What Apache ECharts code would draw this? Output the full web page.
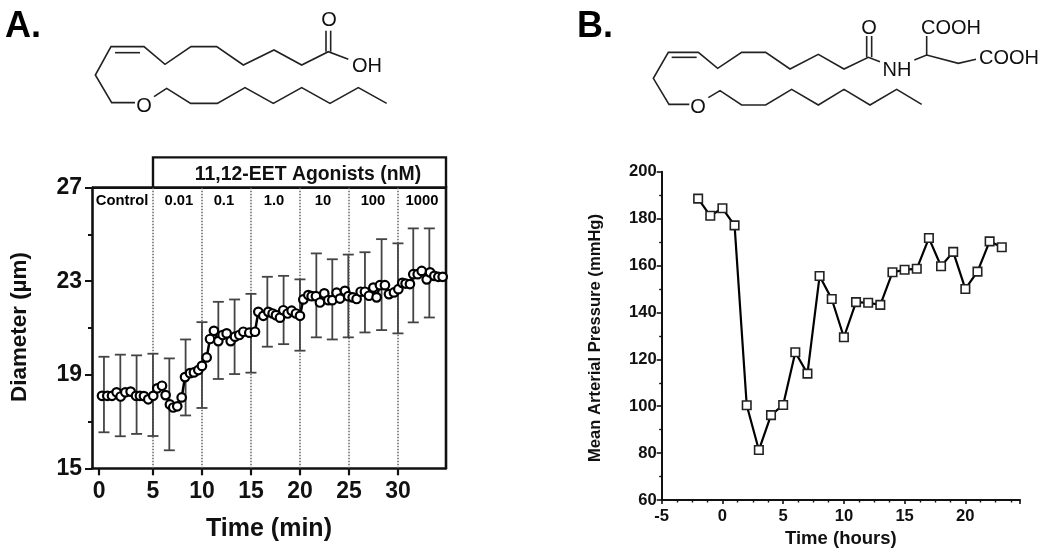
<!DOCTYPE html>
<html><head><meta charset="utf-8">
<style>html,body{margin:0;padding:0;background:#fff}#c{width:1050px;height:555px}</style>
<script src="https://cdn.jsdelivr.net/npm/echarts@6/dist/echarts.min.js"></script>
</head><body><div id="c"></div>
<script>
const timeA=[-0.20,0.34,0.82,1.29,1.70,2.18,2.72,3.27,3.67,4.08,4.52,5.03,5.44,5.92,6.29,6.73,7.07,7.48,7.93,8.27,8.78,9.18,9.63,10.0,10.48,10.82,11.22,11.67,12.11,12.52,12.93,13.37,13.81,14.22,14.83,15.41,15.75,16.26,16.77,17.21,17.55,17.96,18.30,18.74,19.15,19.59,20.0,20.34,20.85,21.19,21.63,22.04,22.48,22.89,23.30,23.74,24.08,24.59,24.93,25.38,25.78,26.19,26.63,27.04,27.49,27.82,28.16,28.67,29.08,29.59,30.04,30.44,30.78,31.22,31.56,32.01,32.42,32.93,33.27,33.71,34.12,34.56];
const diameterA=[18.1,18.1,18.1,18.25,18.07,18.25,18.28,18.1,18.1,18.09,17.95,18.1,18.42,18.53,18.13,17.73,17.6,17.65,18.03,18.9,19.07,19.1,19.2,19.38,19.74,20.53,20.88,20.44,20.7,20.77,20.44,20.63,20.7,20.84,20.8,20.84,21.69,21.52,21.69,21.62,21.55,21.44,21.76,21.62,21.74,21.62,21.52,22.22,22.41,22.36,22.36,22.09,22.48,22.19,22.19,22.51,22.26,22.59,22.36,22.31,22.24,22.55,22.55,22.38,22.73,22.31,22.83,22.83,22.45,22.52,22.66,22.93,22.9,22.88,23.3,23.3,23.44,23.08,23.38,23.23,23.19,23.19];
const errTime=[0,1.67,3.33,5,6.67,8.33,10,11.67,13.33,15,16.67,18.33,20,21.67,23.3,24.93,26.63,28.33,30,31.56,33.2];
const errHigh=[19.77,19.86,19.83,19.9,19.7,20.51,21.25,22.12,22.22,22.46,23.19,23.23,23.08,24.19,23.94,24.14,24.24,24.8,24.62,25.26,25.26];
const errLow=[16.54,16.37,16.47,16.38,15.77,17.26,17.58,18.82,19.03,19.09,20.2,20.31,20.03,20.6,20.51,20.6,20.81,20.91,20.77,21.24,21.45];
const doseLines=[5,10,15,20,25,30];
const doseNames=['Control','0.01','0.1','1.0','10','100','1000'];
const doseNameTime=[1.84,7.65,12.24,17.35,22.35,27.45,32.45];
const tickValuesA=[-0.5,5,10,15,20,25,30];
const tickLabelsA=['0','5','10','15','20','25','30'];
const hoursB=[-2,-1,0,1,2,3,4,5,6,7,8,9,10,11,12,13,14,15,16,17,18,19,20,21,22,23];
const pressureB=[188.5,181.2,184.4,177.1,100.4,81.3,96.2,100.5,123,113.9,155.5,145.7,129.4,144.4,144.1,143.2,157.1,158.2,158.6,171.7,159.7,165.8,150,157.4,170.3,167.8];

const FF='"Liberation Sans",Arial,sans-serif';
const INK='#111';
function poly(pts,ox,w,c){return {type:'polyline',silent:true,shape:{points:pts.map(p=>[ox+p[0]/3,p[1]/3])},style:{stroke:c||'#222',lineWidth:w||1.6,fill:null,lineJoin:'miter'}};}
function txt(t,x,y,size,weight,opt){return Object.assign({type:'text',silent:true,x:x,y:y,style:{text:t,font:(weight||'normal')+' '+size+'px '+FF,fill:INK,textAlign:'center',textVerticalAlign:'middle'}},opt||{});}

const graphic=[
 txt('A.',5,27,36,'bold',{style:{text:'A.',font:'bold 36px '+FF,fill:'#000',textAlign:'left',textVerticalAlign:'middle'}}),
 txt('B.',577,27,36,'bold',{style:{text:'B.',font:'bold 36px '+FF,fill:'#000',textAlign:'left',textVerticalAlign:'middle'}}),
 poly([[405,308],[335,308],[286,225],[333,140],[432,140],[495,193],[573,140],[650,140],[730,195],[822,150],[905,195],[985,155],[1045,178]],0),
 poly([[345,158],[420,158]],0),
 poly([[978,155],[978,92]],0),poly([[992,155],[992,92]],0),
 poly([[462,290],[500,265],[572,310],[652,310],[735,263],[820,310],[905,263],[990,310],[1075,263],[1160,310]],0),
 txt('O',144,106,20),txt('O',329,20,20),txt('OH',367,66,20),
 poly([[358,313],[297,313],[250,235],[295,157],[385,157],[443,205],[515,157],[587,157],[660,207],[745,163],[822,207],[895,172],[930,185]],570),
 poly([[305,172],[380,172]],570),
 poly([[890,172],[890,108]],570),poly([[905,172],[905,108]],570),
 poly([[1033,180],[1070,165],[1165,190],[1218,178]],570),
 poly([[1070,165],[1070,108]],570),
 poly([[415,293],[450,272],[515,315],[587,315],[665,268],[745,315],[822,268],[900,315],[980,268],[1055,313]],570),
 txt('O',698,107,20),txt('O',869,28,20),txt('NH',897,70,20),txt('COOH',951,28,20),txt('COOH',1009,58,20),
 poly([[276,563],[1338,563],[1338,1405]],0,2.6,'#111'),
 poly([[459,563],[459,472],[1338,472],[1338,563]],0,2.4,'#111'),
 txt('11,12-EET Agonists (nM)',308,174.5,19.4,'bold'),
 txt('Diameter (\u00b5m)',20,327,22.4,'bold',{rotation:Math.PI/2}),
 txt('Mean Arterial Pressure (mmHg)',595,338,16.6,'bold',{rotation:Math.PI/2})
];

const errData=errTime.map((t,i)=>[t,errLow[i],errHigh[i]]);
const option={
 animation:false,backgroundColor:'#fff',graphic:graphic,
 grid:[
  {left:92,top:187.7,width:354,height:280.6,containLabel:false},
  {left:661.7,top:171.7,width:358.3,height:328.3,containLabel:false}
 ],
 xAxis:[
  {gridIndex:0,type:'value',min:-1.22,max:34.9,splitLine:{show:false},
   axisLine:{onZero:false,lineStyle:{color:'#111',width:2.6}},
   axisTick:{customValues:tickValuesA,length:7,lineStyle:{color:'#111',width:2.2}},
   axisLabel:{customValues:tickValuesA,margin:12,color:INK,fontFamily:FF,fontWeight:'bold',fontSize:23,
     formatter:v=>tickLabelsA[tickValuesA.indexOf(v)]},
   name:'Time (min)',nameLocation:'middle',nameGap:48,nameTextStyle:{color:INK,fontFamily:FF,fontWeight:'bold',fontSize:25}},
  {gridIndex:1,type:'value',min:-5,max:24.5,interval:5,splitLine:{show:false},
   axisLine:{onZero:false,lineStyle:{color:'#111',width:2}},
   axisTick:{length:4,lineStyle:{color:'#111',width:1.6}},
   minorTick:{show:true,splitNumber:4,length:2.5,lineStyle:{color:'#111',width:1.4}},
   axisLabel:{margin:8,color:INK,fontFamily:FF,fontWeight:'bold',fontSize:16.6,showMaxLabel:false},
   name:'Time (hours)',nameLocation:'middle',nameGap:27,nameTextStyle:{color:INK,fontFamily:FF,fontWeight:'bold',fontSize:18.5}}
 ],
 yAxis:[
  {gridIndex:0,type:'value',min:15,max:27,interval:4,splitLine:{show:false},
   axisLine:{onZero:false,lineStyle:{color:'#111',width:2.6}},
   axisTick:{length:7,lineStyle:{color:'#111',width:2}},
   minorTick:{show:true,splitNumber:2,length:4,lineStyle:{color:'#111',width:2}},
   axisLabel:{margin:10,padding:[4,0,0,0],color:INK,fontFamily:FF,fontWeight:'bold',fontSize:23}},
  {gridIndex:1,type:'value',min:60,max:200,interval:20,splitLine:{show:false},
   axisLine:{onZero:false,lineStyle:{color:'#111',width:2}},
   axisTick:{length:5,lineStyle:{color:'#111',width:1.6}},
   minorTick:{show:true,splitNumber:2,length:2.5,lineStyle:{color:'#111',width:1.4}},
   axisLabel:{margin:5,padding:[3,0,0,0],color:INK,fontFamily:FF,fontWeight:'bold',fontSize:16.6}}
 ],
 series:[
  {type:'custom',xAxisIndex:0,yAxisIndex:0,z:2,silent:true,data:errData,encode:{x:0,y:[1,2]},clip:false,
   renderItem:function(p,api){
    const x=api.value(0),lo=api.coord([x,api.value(1)]),hi=api.coord([x,api.value(2)]);
    const st={stroke:'#444',lineWidth:1.8,fill:null};
    return {type:'group',children:[
     {type:'line',shape:{x1:lo[0],y1:lo[1],x2:hi[0],y2:hi[1]},style:st},
     {type:'line',shape:{x1:lo[0]-5.5,y1:lo[1],x2:lo[0]+5.5,y2:lo[1]},style:st},
     {type:'line',shape:{x1:hi[0]-5.5,y1:hi[1],x2:hi[0]+5.5,y2:hi[1]},style:st}
    ]};
   }},
  {type:'line',xAxisIndex:0,yAxisIndex:0,z:3,silent:true,showAllSymbol:true,
   data:timeA.map((t,i)=>[t,diameterA[i]]),
   symbol:'circle',symbolSize:8.5,lineStyle:{color:'#000',width:2.5},
   itemStyle:{color:'#fff',borderColor:'#000',borderWidth:2.2},
   markLine:{silent:true,symbol:'none',label:{show:false},z:1,
     lineStyle:{color:'#666',type:[1.5,1.5],width:1.5},data:doseLines.map(v=>({xAxis:v}))}},
  {type:'scatter',xAxisIndex:0,yAxisIndex:0,z:4,silent:true,symbolSize:0,itemStyle:{opacity:1},
   data:doseNames.map((n,i)=>({name:n,value:[doseNameTime[i],26.44]})),
   label:{show:true,position:'inside',formatter:'{b}',color:'#000',opacity:1,fontFamily:FF,fontWeight:'bold',fontSize:14.8}},
  {type:'line',xAxisIndex:1,yAxisIndex:1,z:3,silent:true,showAllSymbol:true,
   data:hoursB.map((h,i)=>[h,pressureB[i]]),
   symbol:'rect',symbolSize:8.5,lineStyle:{color:'#000',width:2.2},
   itemStyle:{color:'#fff',borderColor:'#222',borderWidth:1.6}}
 ]
};
echarts.init(document.getElementById('c'),null,{renderer:'canvas'}).setOption(option);
</script></body></html>
